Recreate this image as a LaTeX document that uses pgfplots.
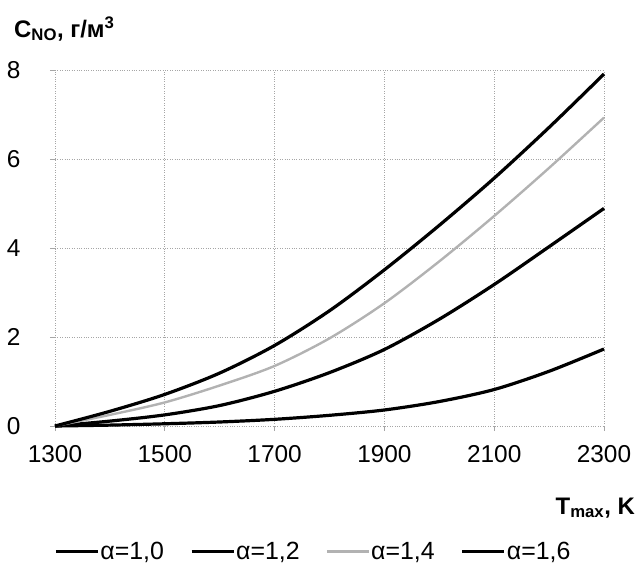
\documentclass[border=0pt]{standalone}
\usepackage{fontspec}
\setmainfont{Liberation Sans}
\usepackage{pgfplots}
\pgfplotsset{compat=1.18}

\begin{document}
\begin{tikzpicture}
\begin{axis}[
  scale only axis,
  width=549bp, height=356bp,
  xmin=1300, xmax=2300, ymin=0, ymax=8,
  xtick={1300,1500,...,2300}, ytick={0,2,...,8},
  grid=major,
  major grid style={gray!70, dotted, line width=0.9bp},
  axis line style={draw=none},
  tick pos=left,
  tick align=outside,
  major tick length=5bp,
  tick style={gray!70, line width=0.8bp},
  /pgf/number format/assume math mode=true,
  /pgf/number format/set thousands separator={},
  tick label style={font=\fontsize{24.5}{28}\selectfont},
  xticklabel style={yshift=-11bp},
  yticklabel style={xshift=-26bp},
  legend columns=4,
  legend style={draw=none, fill=none, at={(axis description cs:0,0)}, anchor=south west,
    xshift=-1bp, yshift=-136bp, inner sep=0pt,
    font=\fontsize{25}{29}\selectfont,
    nodes={inner sep=1bp},
    /tikz/every even column/.append style={column sep=25bp}},
  legend image code/.code={\draw[#1] (0bp,0bp) -- (42bp,0bp);},
  clip=false,
]
\addplot[black, line width=3.2bp, smooth] coordinates {
  (1300,0) (1400,0.02) (1500,0.05) (1600,0.09) (1700,0.15) (1800,0.24)
  (1900,0.36) (2000,0.55) (2100,0.82) (2200,1.23) (2300,1.73)
};
\addlegendentry{α=1,0}
\addplot[black, line width=3.2bp, smooth] coordinates {
  (1300,0) (1400,0.11) (1500,0.25) (1600,0.46) (1700,0.78) (1800,1.20)
  (1900,1.72) (2000,2.40) (2100,3.18) (2200,4.03) (2300,4.89)
};
\addlegendentry{α=1,2}
\addplot[gray!60, line width=2.4bp, smooth] coordinates {
  (1300,0) (1400,0.25) (1500,0.53) (1600,0.91) (1700,1.35) (1800,1.97)
  (1900,2.76) (2000,3.70) (2100,4.72) (2200,5.80) (2300,6.93)
};
\addlegendentry{α=1,4}
\addplot[black, line width=3.2bp, smooth] coordinates {
  (1300,0) (1400,0.33) (1500,0.71) (1600,1.19) (1700,1.81) (1800,2.59)
  (1900,3.51) (2000,4.51) (2100,5.57) (2200,6.71) (2300,7.91)
};
\addlegendentry{α=1,6}

\node[anchor=base west, font=\bfseries\fontsize{24}{28}\selectfont, inner sep=0pt]
  at (axis description cs:0,1) [xshift=-41bp, yshift=33bp] {C\textsubscript{NO}, г/м\textsuperscript{3}};
\node[anchor=base east, font=\bfseries\fontsize{24}{28}\selectfont, inner sep=0pt]
  at (axis description cs:1,0) [xshift=31bp, yshift=-88bp] {T\textsubscript{max}, K};
\coordinate (bl) at (axis description cs:0,0);
\end{axis}
\pgfresetboundingbox
\path ([shift={(-55bp,-139bp)}]bl) rectangle ([shift={(583bp,426bp)}]bl);
\end{tikzpicture}
\end{document}
